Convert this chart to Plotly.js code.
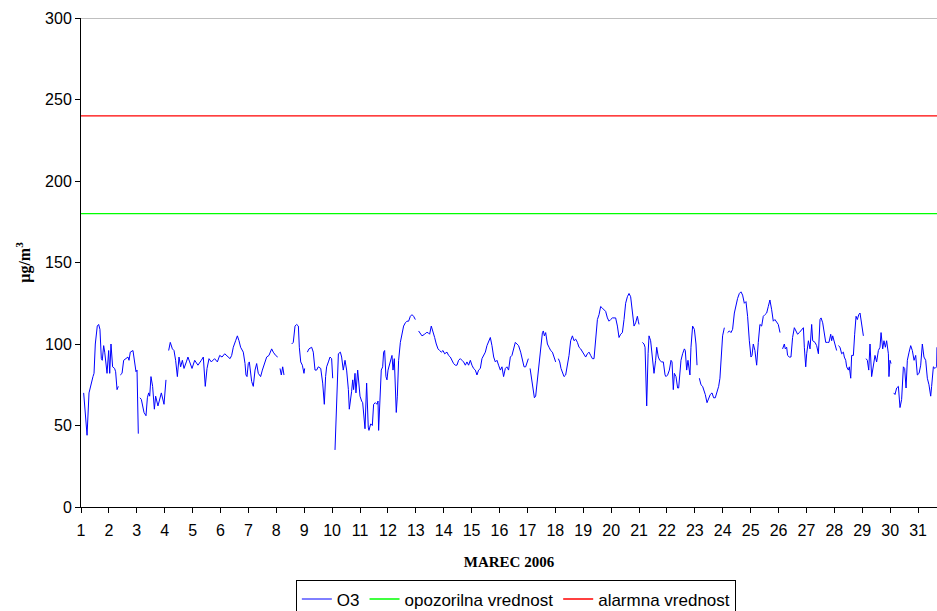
<!DOCTYPE html>
<html>
<head>
<meta charset="utf-8">
<script src="https://cdn.plot.ly/plotly-3.0.1.min.js"></script>
<style>
html,body{margin:0;padding:0;background:#fff;}#chart{width:937px;height:611px;}
</style>
</head>
<body>
<div id="chart"></div>
<script>
// Hour offsets from 1 March 00:00 (null value = missing measurement)
const hours = [
2.3,3.7,5.2,6.9,8.3,10.3,11.2,12.3,14.0,15.2,16.3,17.5,18.3,19.5,20.4,21.2,22.4,23.8,24.7,25.8,27.2,28.9,29.8,31.0,32.1,
33.0,
33.8,35.3,36.7,38.4,40.4,41.3,42.4,44.7,46.2,47.3,48.2,49.3,
50.0,
50.7,51.9,54.2,55.9,57.1,58.2,59.1,60.2,61.6,63.1,64.2,66.2,69.1,71.4,73.1,
74.2,
75.4,76.8,78.6,80.0,81.4,82.9,84.3,85.7,87.2,88.6,90.6,92.0,93.5,95.5,97.8,100.6,103.5,105.2,106.9,108.4,110.1,112.1,114.9,117.3,119.3,121.3,123.6,126.7,128.2,129.6,131.0,133.0,134.5,135.9,137.3,139.6,141.1,141.9,142.8,143.9,144.8,146.8,148.2,149.7,151.1,152.5,154.5,156.0,158.3,159.7,161.7,164.0,165.4,167.4,169.2,
170.2,
171.2,172.3,173.5,174.6,
178.0,
181.2,182.6,184.1,185.5,187.0,187.8,189.0,190.4,191.8,192.4,
193.5,
194.7,196.1,198.4,199.8,201.3,202.7,204.1,206.2,207.9,209.3,210.4,211.3,212.8,214.2,215.6,216.5,
217.5,
218.5,219.9,221.4,223.1,224.2,225.6,227.1,228.5,230.0,230.8,231.7,232.8,233.7,234.5,235.7,236.5,238.0,238.8,240.0,241.4,242.3,244.3,245.7,247.1,247.7,249.2,250.6,251.7,253.2,254.6,255.5,256.0,257.5,258.3,259.5,260.3,261.2,262.3,263.2,264.1,267.5,268.4,269.5,270.4,271.2,272.1,273.2,274.7,276.1,277.5,279.0,280.4,281.8,283.3,284.7,286.1,287.6,
289.0,
290.4,291.9,293.3,295.6,297.0,298.5,299.9,301.3,302.8,304.2,305.6,307.1,308.5,309.9,311.4,312.8,314.8,316.2,317.7,319.1,320.5,322.0,323.4,324.8,326.3,327.7,329.1,330.6,332.0,333.4,334.9,336.3,337.7,339.2,340.6,342.0,343.5,344.9,346.3,347.8,349.2,350.6,352.1,353.5,355.0,356.4,357.8,359.2,360.7,362.1,363.5,365.0,366.4,367.8,369.3,370.7,372.1,373.6,375.0,376.4,378.2,379.7,381.1,382.5,384.0,384.8,
385.5,
386.3,387.7,388.8,390.0,391.1,392.6,394.0,395.4,396.9,397.7,398.6,399.7,401.2,402.6,404.0,405.5,406.9,408.3,
409.5,
410.6,411.8,412.9,414.1,415.5,416.9,418.4,419.8,421.2,422.7,424.1,425.5,427.0,428.4,429.8,431.3,432.7,434.1,435.6,437.0,438.4,439.9,441.3,442.7,444.2,445.6,447.0,448.5,449.9,451.3,452.8,454.2,455.6,457.1,458.5,459.9,461.4,462.8,464.2,465.7,467.1,468.5,470.0,471.4,472.8,474.3,475.7,477.1,478.6,479.4,480.0,
481.5,
482.9,484.3,485.2,486.6,487.8,488.6,490.0,491.5,492.9,494.3,495.2,496.6,497.8,499.5,500.9,502.4,503.2,504.6,506.1,507.5,508.4,509.5,510.4,511.8,513.2,514.1,515.2,516.1,517.5,519.0,519.8,521.0,522.1,523.3,523.8,524.7,526.1,527.6,529.0,529.9,
531.0,
531.9,533.3,534.7,535.6,537.0,538.5,539.9,541.3,542.8,544.2,545.6,547.1,548.5,549.6,550.8,551.9,553.4,
555.0,
556.2,557.7,559.1,560.5,562.0,563.4,564.8,566.3,567.7,569.1,570.6,572.0,573.4,574.9,576.3,577.2,578.3,579.7,581.2,582.6,584.0,585.5,586.9,588.3,589.8,591.2,592.6,594.1,595.5,596.9,598.4,599.8,601.3,
602.4,
603.5,605.0,605.8,607.0,607.8,609.3,610.7,612.1,613.6,615.0,616.4,617.9,619.9,621.4,622.2,623.4,624.2,625.7,627.1,628.5,629.4,631.4,632.8,634.3,635.7,636.6,638.0,639.1,640.6,642.0,643.4,644.9,645.7,646.6,647.7,648.9,650.0,
650.8,
651.5,652.9,654.3,655.8,656.6,657.8,658.6,660.1,660.9,662.1,662.9,664.4,665.5,666.7,667.8,669.0,670.1,671.5,673.0,
674.2,
675.3,676.4,677.6,678.7,680.1,681.6,683.0,684.4,685.9,687.3,688.2,689.6,690.7,691.9,693.0,694.5,695.0,695.9,696.8,
698.0,
699.1,700.2,701.6,703.1,704.5,705.9,707.4,708.5,709.7,710.8,712.3,713.7,715.1,716.6,718.0,719.4,720.9,722.3,723.7,725.1,726.6,728.0,729.4,730.9,731.7,733.2,734.6,736.0,736.3
];
const o3 = [
70,58,44,70,75,80,82,100,111,112,109,91,90,99,95,90,82,96,82,100,86,85,83,72,74,
null,
81,82,90,91,92,90,95,96,90,83,84,45,
null,
67,66,58,56,67,70,68,80,74,60,68,62,70,63,78,
null,
96,101,97,96,90,80,92,86,90,85,89,92,89,85,90,87,90,92,74,85,91,89,91,89,93,92,94,92,91,93,98,102,105,102,98,95,88,81,80,88,89,77,74,84,88,82,80,84,90,92,93,97,95,93,92,
null,
85,81,86,81,
null,
100,101,111,112,111,98,89,87,82,85,
null,
95,97,98,95,84,84,86,85,76,63,80,86,89,92,91,79,
null,
35,62,94,95,92,84,90,84,72,60,64,71,78,72,82,70,84,78,68,65,64,48,76,49,47,51,50,63,64,63,65,47,74,84,86,95,96,80,78,84,93,84,91,78,58,68,90,101,107,111,113,114,114,117,118,117,115,
null,
108,106,105,106,107,107,106,111,108,104,100,97,96,95,96,94,95,93,92,90,88,87,87,90,91,90,89,87,89,87,90,87,85,84,81,84,85,91,93,95,99,102,104,99,92,89,90,87,84,86,80,85,86,84,92,93,97,101,100,99,95,89,86,86,90,91,
null,
85,78,70,67,68,78,88,95,107,108,105,107,100,98,96,95,92,89,
null,
91,89,85,83,80,81,87,93,102,105,102,103,101,98,97,95,93,92,94,95,93,91,91,102,115,118,123,122,121,120,116,114,115,116,116,116,111,104,106,107,115,125,129,131,129,121,111,113,117,114,112,
null,
101,100,98,62,94,105,102,90,82,90,98,92,90,89,89,81,80,81,84,90,89,72,82,80,73,73,82,90,94,97,96,84,90,82,81,98,111,109,100,87,
null,
79,75,74,72,69,64,66,69,70,67,67,71,74,79,94,105,110,
null,
107,108,107,109,119,124,128,131,132,130,125,126,117,102,92,93,100,96,87,101,112,111,117,118,119,123,127,121,114,115,113,112,107,
null,
97,100,97,98,93,92,92,104,110,108,106,107,109,110,98,86,94,102,97,112,102,101,99,94,115,116,113,108,101,101,101,106,102,105,102,98,96,
null,
99,98,94,95,92,90,86,84,86,79,93,93,106,117,115,118,119,113,105,
null,
91,90,84,100,80,86,93,89,96,98,107,97,102,98,102,94,80,90,88,
null,
70,69,73,74,61,66,86,85,73,90,95,99,96,90,93,81,82,87,100,92,90,79,75,68,74,86,85,86,98
];
const dayLabels = ['1','2','3','4','5','6','7','8','9','10','11','12','13','14','15','16','17','18','19','20','21','22','23','24','25','26','27','28','29','30','31'];
const opozorilnaVrednost = 180;
const alarmnaVrednost = 240;
const yTicks = [0,50,100,150,200,250,300];
const xStart = 1, xEnd = 31.68;

const xDays = hours.map(h => 1 + h / 24);
const dayTicks = dayLabels.map(Number);
const font = 'Liberation Sans, Arial, sans-serif';
const serif = 'Liberation Serif, Times New Roman, serif';

const traces = [
  {x: xDays, y: o3, type: 'scatter', mode: 'lines', name: 'O3',
   line: {color: '#0000FF', width: 1}, connectgaps: false, hoverinfo: 'skip'},
  {x: [xStart, xEnd], y: [opozorilnaVrednost, opozorilnaVrednost], type: 'scatter', mode: 'lines',
   name: 'opozorilna vrednost', line: {color: '#00FF00', width: 1.3}, hoverinfo: 'skip'},
  {x: [xStart, xEnd], y: [alarmnaVrednost, alarmnaVrednost], type: 'scatter', mode: 'lines',
   name: 'alarmna vrednost', line: {color: '#FF0000', width: 1.3}, hoverinfo: 'skip'}
];

const layout = {
  width: 937, height: 611,
  margin: {l: 81, r: 0, t: 18, b: 104, pad: 0, autoexpand: false},
  paper_bgcolor: '#fff', plot_bgcolor: '#fff',
  font: {family: font, size: 16, color: '#000'},
  showlegend: true,
  legend: {orientation: 'h', xref: 'paper', x: 0.508, xanchor: 'center',
    yref: 'container', y: 0.05, yanchor: 'top',
    bordercolor: '#000', borderwidth: 1, bgcolor: '#fff',
    font: {family: font, size: 17, color: '#000'}, itemwidth: 30, tracegroupgap: 0},
  xaxis: {range: [xStart, xEnd], tickmode: 'array', tickvals: dayTicks, ticktext: dayLabels,
    automargin: false,
    showgrid: false, zeroline: false, showline: true, linecolor: '#000', linewidth: 1,
    ticks: 'outside', ticklen: 5, tickcolor: '#000', ticklabelstandoff: 4,
    tickfont: {family: font, size: 16, color: '#000'},
    title: {text: '<b>MAREC 2006</b>', font: {family: serif, size: 15, color: '#000'}, standoff: 18}},
  yaxis: {range: [0, 300], tickmode: 'array', tickvals: yTicks, automargin: false,
    showgrid: false, zeroline: false, showline: true, linecolor: '#000', linewidth: 1,
    ticks: 'outside', ticklen: 5, tickcolor: '#000', tickfont: {family: font, size: 16, color: '#000'},
    title: {text: '<b>µg/m<sup>3</sup></b>', font: {family: serif, size: 16, color: '#000'}, standoff: 10}},
  shapes: [{type: 'line', xref: 'paper', x0: 0, x1: 1, yref: 'y', y0: 300, y1: 300,
    line: {color: '#808080', width: 1}}]
};

Plotly.newPlot('chart', traces, layout, {displayModeBar: false, staticPlot: true});
</script>
</body>
</html>
